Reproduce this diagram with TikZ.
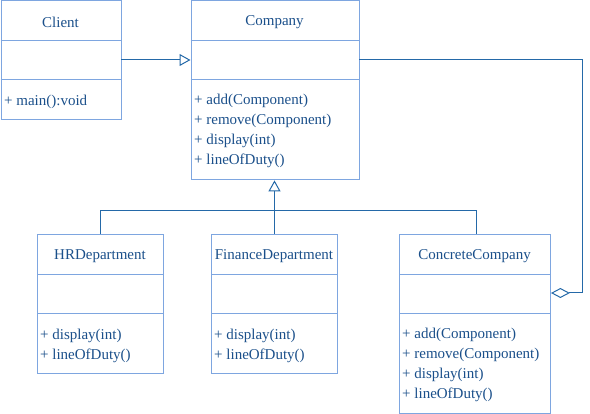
\documentclass[tikz,border=0pt]{standalone}
\usepackage{fontspec}
\setmainfont{Liberation Serif}
\usetikzlibrary{arrows.meta}
\definecolor{boxc}{HTML}{7EA6E0}
\definecolor{linec}{HTML}{2469A8}
\definecolor{txtc}{HTML}{1A4F8A}
\begin{document}
\begin{tikzpicture}[x=1pt,y=-1pt,
  umlbox/.style={draw=boxc,line width=0.9pt},
  sep/.style={draw=boxc,line width=0.9pt},
  conn/.style={draw=linec,line width=1pt},
  title/.style={font=\fontsize{15}{18}\selectfont,text=txtc,inner sep=0pt,anchor=center,yshift=-2pt},
  meth/.style={font=\fontsize{15}{18}\selectfont,text=txtc,inner sep=0pt,anchor=west,yshift=-2pt},
  inh/.style={-{Triangle[open,length=11pt,width=12pt]}},
  agg/.style={{Diamond[open,length=19pt,width=10pt]}-}]
\useasboundingbox (0,0) rectangle (590,414);
% Client
\node[umlbox,minimum width=120pt,minimum height=119pt,inner sep=0pt,anchor=north west] (client) at (0.5,0.5) {};
\draw[sep] (0.5,40) -- (120.5,40) (0.5,79) -- (120.5,79);
\node[title] (clientT) at (60.5,20) {Client};
\node[meth] (clientM) at (4,100) {+ main():void};
% Company
\node[umlbox,minimum width=168pt,minimum height=179pt,inner sep=0pt,anchor=north west] (comp) at (190.5,0.5) {};
\draw[sep] (190.5,40) -- (358.5,40) (190.5,79) -- (358.5,79);
\node[title] (compT) at (274.5,20) {Company};
\node[meth] (compM1) at (194,99) {+ add(Component)};
\node[meth] (compM2) at (194,119) {+ remove(Component)};
\node[meth] (compM3) at (194,139) {+ display(int)};
\node[meth] (compM4) at (194,159) {+ lineOfDuty()};
% HR
\node[umlbox,minimum width=126pt,minimum height=139pt,inner sep=0pt,anchor=north west] (hr) at (37,234) {};
\draw[sep] (37,274) -- (163,274) (37,313) -- (163,313);
\node[title] (hrT) at (100,254) {HRDepartment};
\node[meth] (hrM1) at (40,334) {+ display(int)};
\node[meth] (hrM2) at (40,354) {+ lineOfDuty()};
% Finance
\node[umlbox,minimum width=126pt,minimum height=139pt,inner sep=0pt,anchor=north west] (fin) at (211,234) {};
\draw[sep] (211,274) -- (337,274) (211,313) -- (337,313);
\node[title] (finT) at (274,254) {FinanceDepartment};
\node[meth] (finM1) at (214,334) {+ display(int)};
\node[meth] (finM2) at (214,354) {+ lineOfDuty()};
% ConcreteCompany
\node[umlbox,minimum width=151pt,minimum height=179pt,inner sep=0pt,anchor=north west] (cc) at (399,234) {};
\draw[sep] (399,274) -- (550,274) (399,313) -- (550,313);
\node[title] (ccT) at (474.5,254) {ConcreteCompany};
\node[meth] (ccM1) at (402,333) {+ add(Component)};
\node[meth] (ccM2) at (402,353) {+ remove(Component)};
\node[meth] (ccM3) at (402,373) {+ display(int)};
\node[meth] (ccM4) at (402,393) {+ lineOfDuty()};
% connectors
\coordinate (j) at (274.5,210.5);
\draw[conn,inh] (client.east |- 0,60) -- (comp.west |- 0,60);
\draw[conn,inh] (fin.north -| j) -- (comp.south -| j);
\draw[conn] (hr.north -| 100,0) |- (j) -| (cc.north -| 476,0);
\coordinate (r) at (582,60);
\draw[conn,agg] (cc.east |- 0,293) -| (r) -- (comp.east |- r);
\end{tikzpicture}
\end{document}
